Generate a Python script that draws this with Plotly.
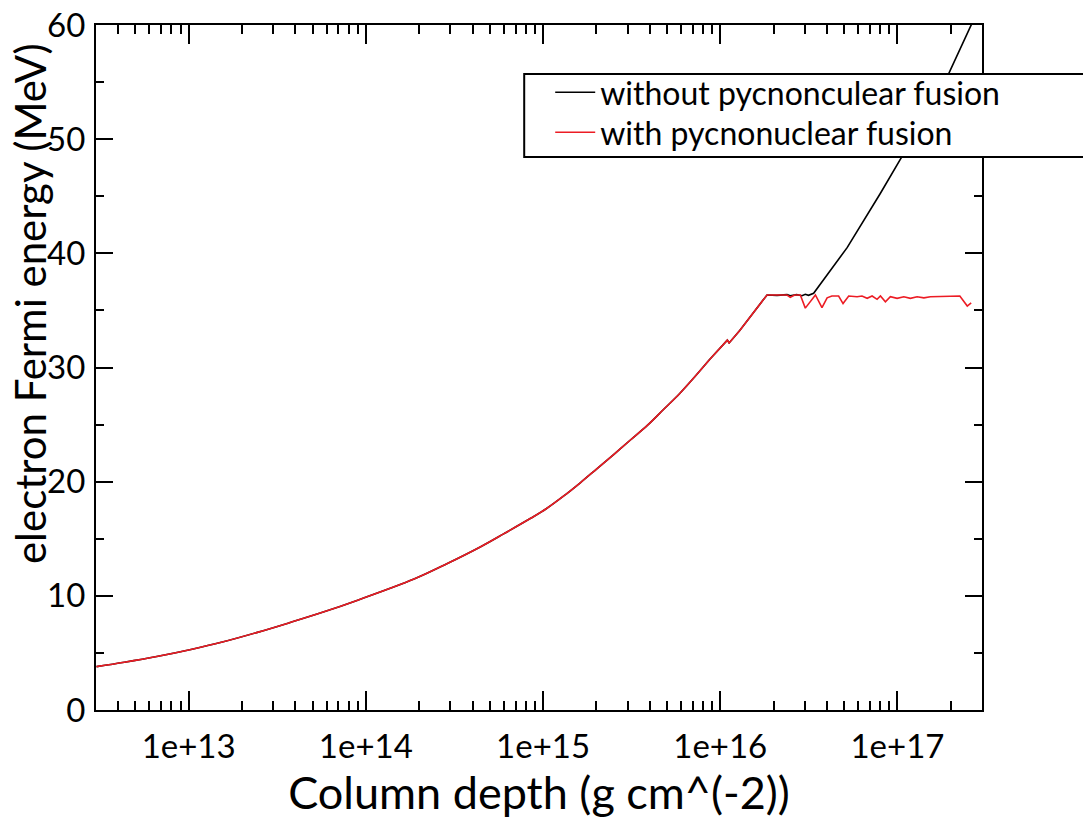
import numpy as np
import plotly.graph_objects as go

# ---- data (log10 of column depth in g cm^-2, electron Fermi energy in MeV) ----
# smooth part shared by both runs
common_logx = [12.48, 12.637, 12.82, 13.013, 13.19, 13.388, 13.57, 13.764, 13.95,
               14.272, 14.46, 14.648, 14.78, 14.93, 15.02, 15.117, 15.21, 15.305,
               15.40, 15.493, 15.59, 15.681, 15.77, 15.84, 15.94]
common_ef = [3.80, 4.18, 4.68, 5.30, 5.95, 6.80, 7.65, 8.60, 9.60,
             11.47, 12.83, 14.30, 15.45, 16.79, 17.65, 18.75, 19.9, 21.15,
             22.4, 23.65, 24.95, 26.34, 27.7, 28.9, 30.7]

# glitch + plateau shared by both runs
kink_logx = [15.94, 16.03, 16.04, 16.05, 16.11, 16.264]
kink_ef = [30.7, 32.2, 32.4, 32.15, 33.25, 36.35]

nofus_logx_tail = [16.32, 16.377, 16.395, 16.431, 16.461, 16.48, 16.498, 16.527,
                   16.716, 16.904, 17.036, 17.29, 17.412, 17.425]
nofus_ef_tail = [36.32, 36.38, 36.29, 36.38, 36.29, 36.41, 36.32, 36.5,
                 40.5, 45.26, 48.76, 55.77, 59.85, 60.3]

fus_logx_tail = [16.32, 16.377, 16.395, 16.42, 16.452, 16.48, 16.537, 16.574, 16.603,
                 16.63, 16.668, 16.693, 16.725, 16.772, 16.80, 16.829, 16.857, 16.885,
                 16.904, 16.932, 16.96, 16.998, 17.036, 17.073, 17.111, 17.149, 17.186,
                 17.243, 17.299, 17.352, 17.394, 17.416]
fus_ef_tail = [36.32, 36.35, 36.15, 36.35, 36.35, 35.2, 36.35, 35.25, 36.1,
               36.26, 36.26, 35.6, 36.26, 36.2, 36.26, 36.06, 36.26, 35.97,
               36.26, 35.76, 36.2, 36.06, 36.2, 36.06, 36.2, 36.1, 36.2,
               36.2, 36.2, 36.26, 35.38, 35.67]

x_tickvals = [1e13, 1e14, 1e15, 1e16, 1e17]
x_ticktext = ["1e+13", "1e+14", "1e+15", "1e+16", "1e+17"]

series_names = ["without pycnonculear fusion", "with pycnonuclear fusion"]
series_colors = ["black", "#ec1c24"]
legend_ids = ["legend", "legend2"]

FONT = "Lato"

tails = [(nofus_logx_tail, nofus_ef_tail), (fus_logx_tail, fus_ef_tail)]

fig = go.Figure()
for i, (tx, ty) in enumerate(tails):
    grp = "g%d" % i
    # smooth low-density part
    fig.add_trace(go.Scatter(
        x=10 ** np.array(common_logx), y=np.array(common_ef), mode="lines",
        line=dict(color=series_colors[i], width=1.6, shape="spline", smoothing=1.0),
        legendgroup=grp, showlegend=False, hoverinfo="skip", legend=legend_ids[i]))
    # kink, plateau and tail
    fig.add_trace(go.Scatter(
        x=10 ** np.array(kink_logx + tx), y=np.array(kink_ef + ty), mode="lines",
        name=series_names[i], legendgroup=grp, legend=legend_ids[i],
        line=dict(color=series_colors[i], width=1.6)))

axis_common = dict(
    showline=True, linewidth=2, linecolor="black", mirror="allticks",
    ticks="inside", tickwidth=1.5, tickcolor="black", showgrid=False, zeroline=False,
    tickfont=dict(family=FONT, size=33, color="black"),
)

fig.update_xaxes(
    type="log", range=[np.log10(3.0e12), np.log10(3.0e17)],
    tickmode="array", tickvals=x_tickvals, ticktext=x_ticktext, ticklen=19,
    minor=dict(ticks="inside", ticklen=9, tickwidth=1.5, tickcolor="black",
               dtick="D1", showgrid=False),
    title=dict(text="Column depth (g cm^(-2))", font=dict(family=FONT, size=45, color="black"),
               standoff=14),
    ticklabelstandoff=6,
    **axis_common,
)
fig.update_yaxes(
    range=[0, 60], tick0=0, dtick=10, ticklen=17,
    minor=dict(ticks="inside", ticklen=8, tickwidth=1.5, tickcolor="black",
               dtick=5, showgrid=False),
    ticklabelstandoff=2,
    **axis_common,
)

fig.add_annotation(
    text="electron Fermi energy (MeV)", textangle=-90,
    xref="paper", yref="paper", x=-0.0745, y=0.594,
    xanchor="center", yanchor="middle", showarrow=False,
    font=dict(family=FONT, size=42, color="black"),
)

# legend frame (box runs off the right edge of the figure)
fig.add_shape(type="rect", xref="paper", yref="paper",
              x0=0.4833, x1=1.25, y0=0.8073, y1=0.9285,
              fillcolor="white", line=dict(color="black", width=2), layer="above")

leg_common = dict(
    xanchor="left", yanchor="top", bgcolor="rgba(0,0,0,0)", borderwidth=0,
    font=dict(family=FONT, size=32, color="black"),
    itemwidth=40, indentation=26,
)
fig.update_layout(
    width=1083, height=821,
    margin=dict(l=96, r=101, t=25, b=111, autoexpand=False),
    paper_bgcolor="white", plot_bgcolor="white",
    showlegend=True,
    legend=dict(x=0.4833, y=0.9417, **leg_common),
    legend2=dict(x=0.4833, y=0.8832, **leg_common),
    font=dict(family=FONT, color="black"),
)

fig.write_html("out.html")
